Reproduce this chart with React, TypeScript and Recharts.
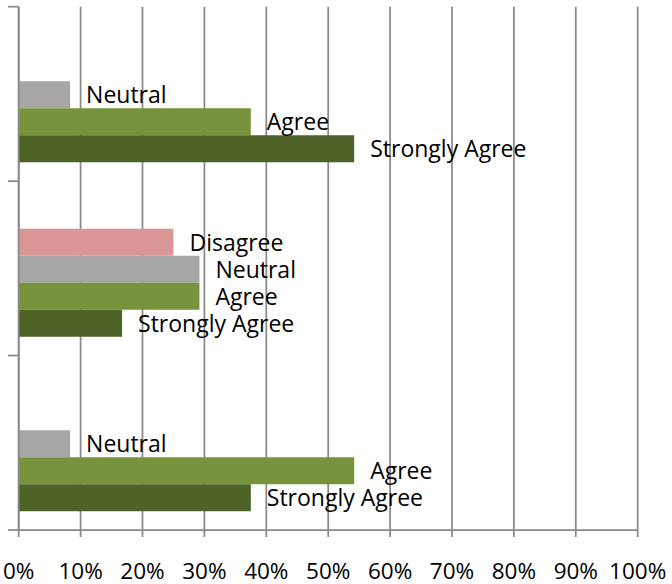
import React from "react";
import {
  BarChart,
  Bar,
  XAxis,
  YAxis,
  CartesianGrid,
  LabelList,
} from "recharts";

const categories = ["Group 3", "Group 2", "Group 1"];
const stronglyDisagree = [0, 0, 0];
const disagree = [0, 25, 0];
const neutral = [8.3, 29.2, 8.3];
const agree = [37.5, 29.2, 54.2];
const stronglyAgree = [54.2, 16.7, 37.5];
const xTicks = [0, 10, 20, 30, 40, 50, 60, 70, 80, 90, 100];

const data = categories.map((name, i) => ({
  name,
  sd: stronglyDisagree[i],
  d: disagree[i],
  n: neutral[i],
  a: agree[i],
  sa: stronglyAgree[i],
}));

const FONT = "'Open Sans', sans-serif";
const AXIS = "#8a8a8a";

const makeLabel = (text: string) => (props: any) => {
  const { x, y, width, height, value } = props;
  if (!value || value <= 0) return null;
  return (
    <text
      x={Number(x) + Number(width) + 16}
      y={Number(y) + Number(height) / 2 + 8.5}
      fontFamily={FONT}
      fontSize={23}
      fill="#000"
      textAnchor="start"
    >
      {text}
    </text>
  );
};

const BoundaryTick = (props: any) => {
  const { x, y, payload, index } = props;
  const off = payload && payload.offset ? payload.offset : 0;
  const x0 = Number(x) - 10.7;
  return (
    <g>
      {index === 0 && (
        <line x1={x0} x2={x} y1={y - off} y2={y - off} stroke={AXIS} strokeWidth={1.75} />
      )}
      <line x1={x0} x2={x} y1={y + off} y2={y + off} stroke={AXIS} strokeWidth={1.75} />
    </g>
  );
};

const series = [
  { key: "sd", name: "Strongly Disagree", color: "#953735" },
  { key: "d", name: "Disagree", color: "#d99694" },
  { key: "n", name: "Neutral", color: "#a6a6a6" },
  { key: "a", name: "Agree", color: "#77933c" },
  { key: "sa", name: "Strongly Agree", color: "#4f6228" },
];

export default function App() {
  return (
    <div style={{ position: "absolute", left: 0, top: 0, background: "#fff" }}>
      <BarChart
        width={672}
        height={584}
        data={data}
        layout="vertical"
        margin={{ top: 6.7, right: 34.3, bottom: 0, left: 0 }}
        barCategoryGap="11.8%"
        barGap={0}
      >
        <CartesianGrid
          horizontal={false}
          vertical={true}
          stroke={AXIS}
          strokeWidth={1.75}
        />
        <XAxis
          type="number"
          domain={[0, 100]}
          ticks={xTicks}
          allowDataOverflow
          tickFormatter={(v: number) => `${v}%`}
          height={54}
          tickSize={7}
          tickMargin={26}
          stroke={AXIS}
          axisLine={{ stroke: AXIS, strokeWidth: 1.75 }}
          tickLine={{ stroke: AXIS, strokeWidth: 1.75 }}
          tick={{ fontFamily: FONT, fontSize: 22.5, fill: "#000" }}
          interval={0}
        />
        <YAxis
          type="category"
          dataKey="name"
          width={18.7}
          tickSize={0}
          tickMargin={0}
          tickLine={false}
          axisLine={{ stroke: AXIS, strokeWidth: 1.75 }}
          tick={<BoundaryTick />}
          interval={0}
        />
        {series.map((s) => (
          <Bar
            key={s.key}
            dataKey={s.key}
            name={s.name}
            fill={s.color}
            isAnimationActive={false}
          >
            <LabelList dataKey={s.key} content={makeLabel(s.name)} />
          </Bar>
        ))}
      </BarChart>
    </div>
  );
}
